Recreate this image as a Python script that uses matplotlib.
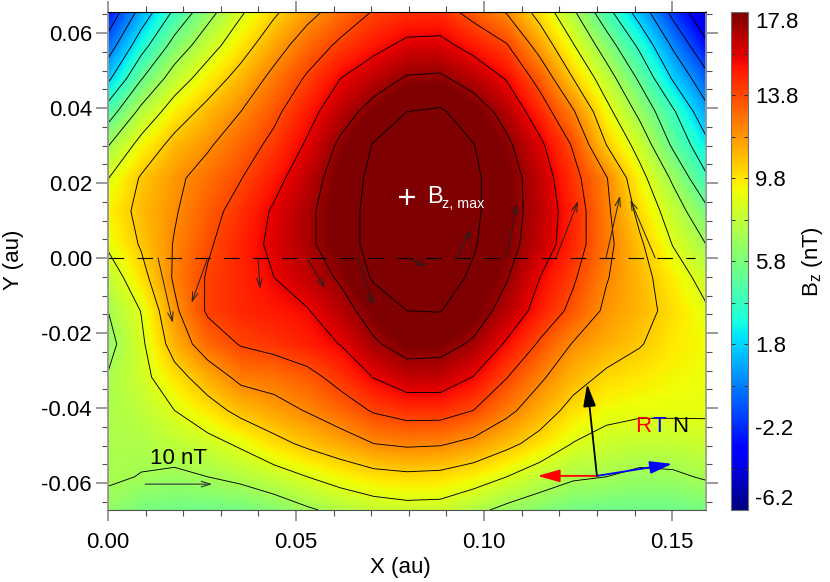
"""
Bz map with contours and vectors along y = 0
"""

import numpy as np
import matplotlib
matplotlib.use('Agg')
import matplotlib.pyplot as plt
from matplotlib.ticker import MultipleLocator

plt.rcParams['font.family'] = ['Liberation Sans', 'DejaVu Sans']
plt.rcParams['mathtext.fontset'] = 'custom'
plt.rcParams['mathtext.rm'] = 'Liberation Sans'
plt.rcParams['mathtext.it'] = 'Liberation Sans'
plt.rcParams['mathtext.default'] = 'rm'

# Bz values in nT, top row first (y = ymax), left to right
bz_rows = [
    [-2.8, 0.8, 3.9, 6.4, 8.5, 10.15, 11.6, 12.8, 13.9, 14.4, 14.5, 13.25, 12.0, 9.8, 7.25, 4.2, 1.15, -1.95, -4.6],
    [-0.7, 2.9, 5.9, 8.0, 9.7, 11.4, 12.9, 14.1, 15.05, 15.85, 15.9, 15.0, 13.9, 11.45, 8.8, 6.15, 3.25, -0.05, -2.9],
    [1.55, 5.2, 7.8, 9.5, 11.0, 12.55, 14.0, 15.5, 16.45, 17.35, 17.45, 16.55, 15.4, 13.25, 10.4, 7.8, 5.05, 1.75, -1.0],
    [4.45, 7.45, 9.5, 10.9, 12.1, 13.45, 14.95, 16.5, 17.8, 18.9, 19.1, 18.05, 16.65, 14.65, 12.25, 9.2, 6.6, 3.85, 0.7],
    [6.9, 9.25, 10.9, 11.9, 13.05, 14.2, 15.7, 17.5, 19.0, 19.6, 19.7, 18.95, 17.5, 15.8, 13.65, 10.4, 8.1, 5.05, 2.35],
    [8.65, 10.55, 11.75, 12.75, 13.75, 15.0, 16.45, 18.0, 19.3, 19.9, 20.0, 19.2, 17.95, 16.35, 14.3, 12.2, 9.25, 6.75, 3.85],
    [9.4, 10.85, 11.95, 13.25, 14.4, 15.7, 16.85, 18.2, 19.4, 20.0, 20.0, 19.2, 17.9, 16.5, 14.7, 12.4, 10.0, 7.9, 5.7],
    [8.95, 10.55, 12.2, 13.6, 14.75, 15.85, 16.85, 18.2, 19.4, 19.9, 19.9, 19.05, 17.75, 16.35, 14.6, 12.55, 10.65, 8.65, 7.0],
    [7.7, 9.85, 12.3, 13.95, 14.65, 15.5, 16.4, 17.4, 19.1, 19.7, 19.6, 18.65, 17.3, 15.5, 14.0, 12.2, 10.95, 9.55, 8.1],
    [7.0, 8.75, 11.8, 14.0, 14.6, 15.0, 15.4, 16.6, 17.9, 18.9, 18.95, 18.0, 16.6, 14.9, 13.4, 11.8, 11.0, 9.9, 8.9],
    [6.5, 8.4, 11.1, 12.95, 13.9, 14.3, 14.85, 15.55, 17.0, 17.85, 17.75, 17.0, 15.3, 13.6, 12.0, 11.2, 10.5, 9.7, 9.2],
    [7.1, 8.2, 9.8, 11.2, 12.5, 12.75, 13.3, 14.35, 15.55, 16.4, 16.4, 15.45, 13.85, 12.35, 11.0, 10.1, 9.7, 9.3, 9.1],
    [7.2, 7.7, 8.7, 9.75, 10.85, 11.5, 12.2, 13.0, 13.95, 14.45, 14.45, 13.8, 12.5, 11.2, 9.9, 9.15, 8.95, 8.95, 8.9],
    [7.2, 7.3, 7.75, 8.2, 8.95, 9.95, 10.7, 11.35, 12.1, 12.35, 12.25, 11.7, 10.8, 9.85, 8.65, 8.15, 7.9, 7.9, 8.1],
    [7.2, 6.95, 6.7, 7.0, 7.4, 8.0, 8.7, 9.35, 9.85, 10.05, 9.95, 9.45, 8.7, 7.8, 7.2, 7.0, 6.65, 6.75, 7.15],
    [6.5, 5.75, 5.5, 5.45, 5.6, 6.1, 6.8, 7.4, 7.9, 8.15, 8.1, 7.4, 6.6, 6.1, 5.6, 5.4, 5.4, 5.4, 5.7],
]
contour_levels = [-3.2, -1.5, 0.2, 1.9, 3.6, 5.3, 7.0, 8.7, 10.4, 12.1, 13.8, 15.5, 17.2, 18.9]

# vectors along y = 0: position in au, components in nT
vec_x = [0.0133, 0.0265, 0.0399, 0.0529, 0.0665, 0.0795, 0.0927, 0.1060, 0.1191, 0.1324, 0.1455]
vec_u = [2.2, -2.4, 0.3, 2.7, 2.2, 2.8, 2.1, 1.5, 3.3, 2.1, -3.7]
vec_v = [-9.7, -6.7, -4.6, -4.5, -7.0, -1.2, 4.2, 8.1, 8.5, 9.3, 8.7]

# RTN axes: origin and tips in au
rtn_origin = (0.130, -0.0581)
rtn_tips = [(0.1142, -0.0581), (0.1500, -0.0549), (0.1274, -0.0336)]
rtn_colors = ['red', 'blue', 'black']

xmin, xmax = 0.0, 0.159
ymin, ymax = -0.0672, 0.0656
vmin, vmax = -6.2, 17.8
nt_to_au = 0.0178 / 10.0  # length of the 10 nT reference arrow

W, H = 830, 582
fig = plt.figure(figsize=(W / 100, H / 100), dpi=100)
ax = fig.add_axes([108 / W, 1 - 510 / H, 598 / W, 498 / H])

bz = np.array(bz_rows)
ny, nx = bz.shape
x_nodes = np.linspace(xmin, xmax, nx)
y_nodes = np.linspace(ymax, ymin, ny)
dx = x_nodes[1] - x_nodes[0]
dy = y_nodes[0] - y_nodes[1]

im = ax.imshow(bz, cmap='jet', vmin=vmin, vmax=vmax, aspect='auto', origin='upper',
               extent=[xmin - dx / 2, xmax + dx / 2, ymin - dy / 2, ymax + dy / 2],
               interpolation='bilinear', interpolation_stage='data')
ax.contour(x_nodes, y_nodes[::-1], bz[::-1], levels=contour_levels, colors='black',
           linewidths=0.65, negative_linestyles='solid')
ax.set_xlim(xmin, xmax)
ax.set_ylim(ymin, ymax)

# dashed y = 0 line
ax.plot([xmin, 0.156], [0, 0], color='black', lw=0.8, dashes=(14, 12))

# Vectors
for x0, u, v in zip(vec_x, vec_u, vec_v):
    ax.annotate('', xy=(x0 + u * nt_to_au, v * nt_to_au), xytext=(x0, 0),
                arrowprops=dict(arrowstyle='->,head_length=0.65,head_width=0.2', color='#202020',
                                lw=0.7, shrinkA=0, shrinkB=0))

# 10 nT reference
ax.annotate('', xy=(0.0277, -0.0603), xytext=(0.0099, -0.0603),
            arrowprops=dict(arrowstyle='->,head_length=0.65,head_width=0.2', color='#303030',
                            lw=0.8, shrinkA=0, shrinkB=0))
ax.text(0.0112, -0.0548, '10 nT', fontsize=16, color='black', ha='left', va='baseline')

# Bz max marker
ax.plot([0.0795], [0.0163], marker='+', color='white', ms=11, mew=1.6)
ax.text(0.0848, 0.01467, 'B', fontsize=17, color='white', ha='left', va='baseline')
ax.text(0.0888, 0.01333, 'z, max', fontsize=10.3, color='white', ha='left', va='baseline')

# RTN triad
for tip, col in zip(rtn_tips, rtn_colors):
    ax.annotate('', xy=tip, xytext=rtn_origin,
                arrowprops=dict(arrowstyle='-|>,head_length=0.85,head_width=0.24', color=col,
                                lw=1.3, shrinkA=0, shrinkB=0, mutation_scale=16))
ax.text(0.1402, -0.0465, 'R', color='red', fontsize=16, ha='left', va='baseline')
ax.text(0.1448, -0.0465, 'T', color='blue', fontsize=16, ha='left', va='baseline')
ax.text(0.1500, -0.0465, 'N', color='black', fontsize=16, ha='left', va='baseline')

# Axes and ticks
ax.set_xticks([0.0, 0.05, 0.10, 0.15])
ax.set_xticklabels(['0.00', '0.05', '0.10', '0.15'], fontsize=16)
ax.set_yticks([-0.06, -0.04, -0.02, 0.0, 0.02, 0.04, 0.06])
ax.set_yticklabels(['-0.06', '-0.04', '-0.02', '0.00', '0.02', '0.04', '0.06'], fontsize=16)
ax.xaxis.set_minor_locator(MultipleLocator(0.01))
ax.yaxis.set_minor_locator(MultipleLocator(0.005))
ax.tick_params(which='major', direction='out', top=True, right=True, width=1.4, color='#9a9a9a')
ax.tick_params(which='minor', direction='out', top=True, right=True, width=0.8, color='#505050')
ax.tick_params(axis='x', which='major', length=8, pad=8)
ax.tick_params(axis='x', which='minor', length=4.5)
ax.tick_params(axis='y', which='major', length=8.6, pad=3)
ax.tick_params(axis='y', which='minor', length=4.5)
ax.spines['left'].set_color('#9a9a9a')
ax.spines['left'].set_linewidth(1.4)
ax.spines['right'].set_color('#9a9a9a')
ax.spines['right'].set_linewidth(1.2)
ax.spines['top'].set_linewidth(0.8)
ax.spines['bottom'].set_linewidth(0.8)
ax.spines['bottom'].set_color('#505050')

fig.text(400 / W, 1 - 567 / H, 'X (au)', fontsize=16, ha='center', va='center')
fig.text(14 / W, 1 - 260 / H, 'Y (au)', fontsize=16, rotation=90, ha='center', va='center')

# Colorbar
cax = fig.add_axes([731 / W, 1 - 510 / H, 17 / W, 498 / H])
cbar = fig.colorbar(im, cax=cax)
cbar.set_ticks([-6.2, -2.2, 1.8, 5.8, 9.8, 13.8, 17.8])
cbar.set_ticklabels(['-6.2', '-2.2', '1.8', '5.8', '9.8', '13.8', '17.8'], fontsize=16)
cax.set_yticks([-4.2, -0.2, 3.8, 7.8, 11.8, 15.8], minor=True)
cax.tick_params(which='both', direction='in', left=True, right=True, length=3, width=0.7, color='#303030')
cax.tick_params(which='major', pad=5)
cax.get_yticklabels()[0].set_va('bottom')
cax.get_yticklabels()[-1].set_va('top')
cbar.outline.set_linewidth(0.8)
cbar.outline.set_edgecolor('#707070')
fig.text(812 / W, 1 - 262 / H, r'$\mathrm{B_z}$ (nT)', fontsize=16, rotation=90, ha='center', va='center')

fig.savefig('out.png', dpi=100)
plt.close(fig)
